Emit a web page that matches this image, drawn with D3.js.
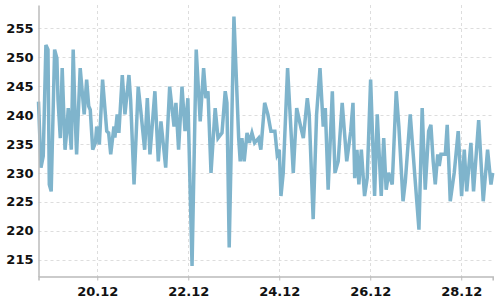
<!DOCTYPE html>
<html>
<head>
<meta charset="utf-8">
<script src="https://cdn.jsdelivr.net/npm/d3@7"></script>
<style>
  body { margin: 0; background: #fff; }
  svg { display: block; }
  .tick text { font-family: "DejaVu Sans", sans-serif; font-size: 13px; font-weight: bold; fill: #111; }
  .grid line { stroke: #ddd; stroke-dasharray: 3,3; }
</style>
</head>
<body>
<script>
"use strict";

// hours since 18.12 00:00
var hours = [17.0, 18.3, 19.5, 20.9, 22.0, 22.7, 23.7, 25.5, 26.7, 27.3, 28.5, 29.5, 31.0, 31.9, 32.7, 34.3,
    35.3, 36.2, 37.1, 39.0, 41.1, 42.4, 43.5, 44.3, 45.6, 47.0, 47.7, 49.1, 50.8, 53.0, 54.0, 55.1,
    56.8, 57.3, 58.5, 59.4, 61.2, 62.6, 64.7, 65.6, 67.4, 69.6, 70.9, 73.0, 74.4, 75.8, 78.4, 80.2,
    81.6, 84.1, 86.2, 88.5, 89.5, 90.9, 92.7, 94.3, 95.8, 98.0, 100.2, 102.3, 104.1, 105.3, 106.4, 108.0,
    110.2, 111.7, 113.8, 115.5, 116.4, 117.6, 120.1, 122.6, 123.4, 124.3, 125.5, 127.0, 128.2, 129.6, 131.0, 133.1,
    134.3, 136.3, 138.0, 139.6, 141.7, 142.9, 144.0, 144.9, 146.1, 148.4, 151.4, 153.2, 155.3, 156.7, 158.8, 159.8,
    161.9, 163.7, 165.5, 167.2, 168.3, 169.8, 172.0, 173.4, 175.1, 177.2, 179.6, 181.7, 182.9, 183.8, 185.0, 186.0,
    187.3, 189.0, 190.4, 192.2, 194.3, 195.7, 197.8, 199.1, 200.4, 201.7, 203.6, 205.7, 207.1, 209.3, 210.5, 213.1,
    215.4, 217.7, 219.4, 221.0, 222.8, 224.0, 225.2, 226.3, 227.6, 228.4, 229.3, 231.6, 232.6, 233.4, 234.2, 236.3,
    238.4, 240.2, 241.6, 242.9, 245.1, 246.5, 249.2, 251.6, 253.9, 255.7, 256.6];

var values = [242.3, 230.9, 232.9, 252.1, 251.3, 228.0, 226.8, 251.3, 249.8, 242.6, 236.0, 248.1, 234.0, 237.2, 241.2, 234.0,
    251.3, 240.9, 233.2, 248.1, 240.1, 246.1, 241.5, 240.9, 234.0, 235.2, 238.0, 234.9, 246.1, 237.2, 236.9, 233.2,
    238.0, 236.1, 240.1, 236.9, 246.9, 240.1, 246.9, 242.6, 228.0, 244.9, 240.9, 234.0, 242.9, 233.2, 244.1, 232.0,
    238.9, 230.9, 244.9, 238.0, 242.1, 234.0, 244.9, 237.2, 242.9, 213.9, 251.3, 238.9, 248.1, 242.9, 244.1, 230.0,
    241.2, 236.0, 236.9, 244.1, 242.1, 217.1, 257.0, 236.0, 232.0, 236.0, 232.0, 236.9, 235.2, 236.9, 235.2, 236.0,
    234.0, 242.1, 240.1, 237.2, 237.2, 233.2, 234.0, 226.0, 230.0, 248.1, 230.0, 241.2, 238.0, 236.0, 242.9, 240.1,
    222.0, 240.1, 248.1, 238.0, 241.2, 227.1, 244.1, 230.0, 232.0, 242.1, 232.0, 237.2, 242.1, 229.1, 234.0, 228.0,
    234.0, 226.0, 229.1, 246.1, 226.0, 240.1, 226.0, 236.0, 227.1, 230.0, 228.0, 244.1, 238.0, 225.1, 228.5, 240.1,
    230.0, 220.2, 241.2, 227.1, 237.2, 238.3, 232.0, 228.0, 233.2, 231.2, 233.2, 233.2, 238.3, 232.0, 225.1, 230.0,
    237.2, 226.0, 234.0, 226.8, 235.2, 226.8, 239.1, 225.1, 234.0, 228.0, 230.0];

var tickDays = [20, 22, 24, 26, 28];
var yTicks = [215, 220, 225, 230, 235, 240, 245, 250, 255];

var width = 500,
    height = 300,
    margin = { top: 5, right: 7.3, bottom: 23.5, left: 38.5 },
    start = new Date(2023, 11, 18);

var data = hours.map(function (h, i) {
    return { date: new Date(start.getTime() + h * 3600000), value: values[i] };
});

var x = d3.scaleTime()
    .domain(d3.extent(data, function (d) { return d.date; }))
    .range([margin.left, width - margin.right]);

var y = d3.scaleLinear()
    .domain([212.1, 259.0])
    .range([height - margin.bottom, margin.top]);

var svg = d3.select("body").append("svg")
    .attr("width", width)
    .attr("height", height);

var tickDates = tickDays.map(function (d) { return new Date(2023, 11, d); });

// dashed grid
var grid = svg.append("g").attr("class", "grid");

grid.selectAll("line.h").data(yTicks).enter().append("line")
    .attr("class", "h")
    .attr("x1", margin.left).attr("x2", width - margin.right)
    .attr("y1", function (d) { return Math.round(y(d)) + 0.5; })
    .attr("y2", function (d) { return Math.round(y(d)) + 0.5; });

grid.selectAll("line.v").data(tickDates).enter().append("line")
    .attr("class", "v")
    .attr("y1", margin.top).attr("y2", height - margin.bottom)
    .attr("x1", function (d) { return Math.round(x(d)) + 0.5; })
    .attr("x2", function (d) { return Math.round(x(d)) + 0.5; });

// the line
var line = d3.line()
    .x(function (d) { return x(d.date); })
    .y(function (d) { return y(d.value); });

svg.append("path")
    .datum(data)
    .attr("fill", "none")
    .attr("stroke", "#7fb4cc")
    .attr("stroke-width", 3.5)
    .attr("d", line);

// axes
var xAxis = svg.append("g")
    .attr("transform", "translate(0," + (height - margin.bottom) + ")")
    .call(d3.axisBottom(x).tickValues(tickDates).tickFormat(d3.timeFormat("%d.%m")).tickSize(4).tickPadding(6));

var yAxis = svg.append("g")
    .attr("transform", "translate(" + margin.left + ",0)")
    .call(d3.axisLeft(y).tickValues(yTicks).tickSize(0).tickPadding(5));

[xAxis, yAxis].forEach(function (g) {
    g.select(".domain").attr("stroke", "#bbb").attr("stroke-width", 1.5);
    g.selectAll(".tick line").attr("stroke", "#bbb");
});
</script>
</body>
</html>
